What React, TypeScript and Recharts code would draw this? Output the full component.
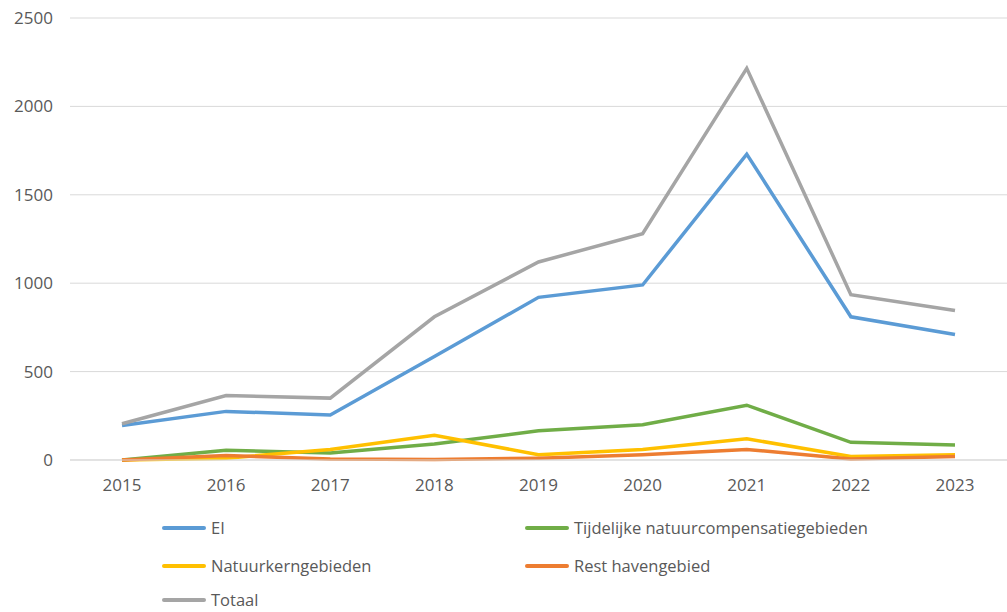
import { LineChart, Line, XAxis, YAxis, CartesianGrid, Legend } from "recharts";

const years = ["2015", "2016", "2017", "2018", "2019", "2020", "2021", "2022", "2023"];
const ei = [195, 275, 255, 585, 920, 990, 1730, 810, 710];
const tijdelijk = [0, 55, 40, 90, 165, 200, 310, 100, 85];
const natuurkern = [0, 10, 60, 140, 30, 60, 120, 20, 30];
const rest = [0, 25, 5, 3, 10, 30, 60, 5, 20];
const totaal = [205, 365, 350, 810, 1120, 1280, 2215, 935, 845];
const yTicks = [0, 500, 1000, 1500, 2000, 2500];

const series = [
  { key: "ei", name: "EI", color: "#5B9BD5" },
  { key: "tijdelijk", name: "Tijdelijke natuurcompensatiegebieden", color: "#70AD47" },
  { key: "natuurkern", name: "Natuurkerngebieden", color: "#FFC000" },
  { key: "rest", name: "Rest havengebied", color: "#ED7D31" },
  { key: "totaal", name: "Totaal", color: "#A5A5A5" },
];

const data = years.map((year, i) => ({
  year,
  ei: ei[i],
  tijdelijk: tijdelijk[i],
  natuurkern: natuurkern[i],
  rest: rest[i],
  totaal: totaal[i],
}));

const FONT = "'Open Sans', sans-serif";
const TEXT = "#595959";

// legend slots: 2 columns x 3 rows, like the Excel original
const slots = [
  { left: 162, top: 38 },
  { left: 525, top: 38 },
  { left: 162, top: 76 },
  { left: 525, top: 76 },
  { left: 162, top: 110 },
];

function ChartLegend() {
  return (
    <div style={{ position: "relative", width: 1007, height: 122, fontFamily: FONT }}>
      {series.map((s, i) => (
        <div
          key={s.key}
          style={{
            position: "absolute",
            left: slots[i].left,
            top: slots[i].top - 11,
            height: 22,
            display: "flex",
            alignItems: "center",
            whiteSpace: "nowrap",
          }}
        >
          <span style={{ display: "inline-block", width: 44, height: 4, borderRadius: 2, background: s.color }} />
          <span style={{ marginLeft: 5, fontSize: 16.5, lineHeight: "22px", color: TEXT }}>{s.name}</span>
        </div>
      ))}
    </div>
  );
}

export default function App() {
  return (
    <div style={{ position: "absolute", left: 0, top: 0, width: 1007, height: 612, background: "#fff" }}>
      <LineChart width={1007} height={612} data={data} margin={{ top: 18, right: 0, left: 0, bottom: 0 }}>
        <CartesianGrid vertical={false} stroke="#D9D9D9" strokeWidth={1} />
        <XAxis
          dataKey="year"
          padding={{ left: 52, right: 52 }}
          axisLine={{ stroke: "#D9D9D9" }}
          tickLine={false}
          tickSize={0}
          tickMargin={19}
          height={30}
          tick={{ fill: TEXT, fontSize: 17, fontFamily: FONT }}
        />
        <YAxis
          domain={[0, 2500]}
          ticks={yTicks}
          axisLine={false}
          tickLine={false}
          tickSize={0}
          tickMargin={17}
          width={70}
          tick={{ fill: TEXT, fontSize: 17, fontFamily: FONT }}
        />
        <Legend verticalAlign="bottom" content={() => <ChartLegend />} wrapperStyle={{ left: 0, width: 1007 }} />
        {series.map((s) => (
          <Line
            key={s.key}
            type="linear"
            dataKey={s.key}
            name={s.name}
            stroke={s.color}
            strokeWidth={3.5}
            dot={false}
            activeDot={false}
            isAnimationActive={false}
          />
        ))}
      </LineChart>
    </div>
  );
}
